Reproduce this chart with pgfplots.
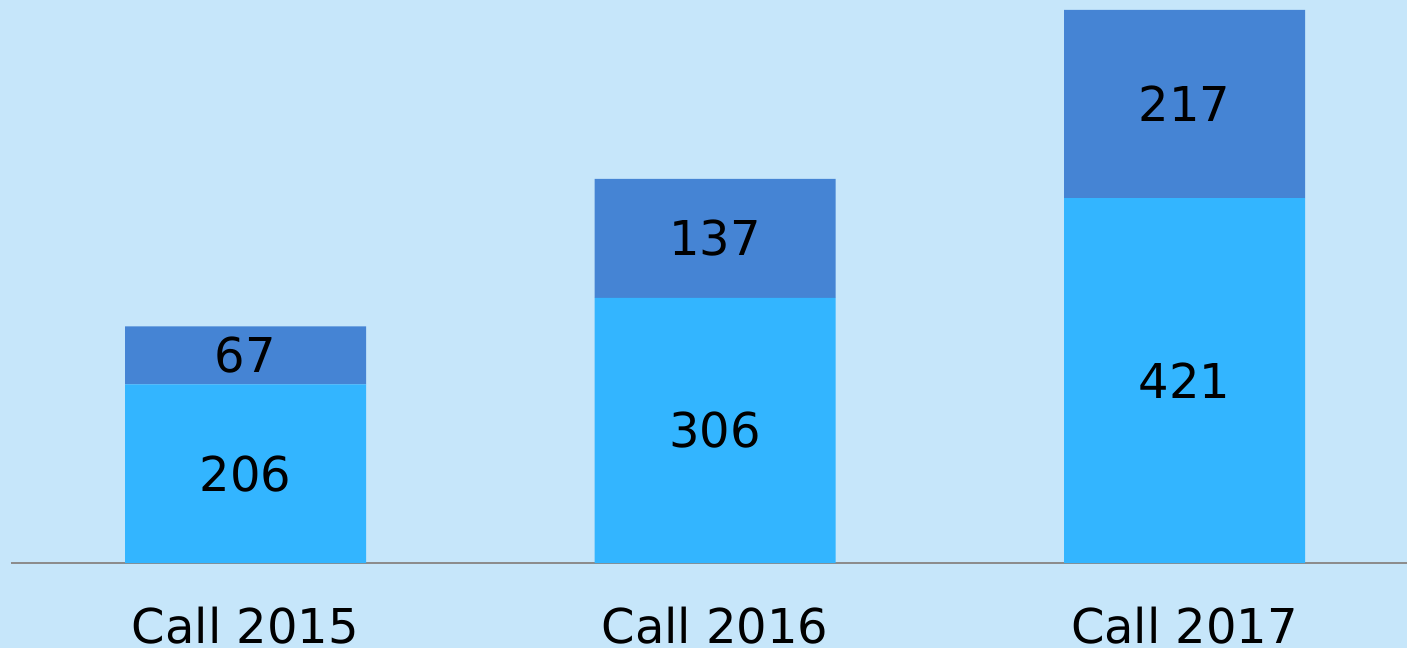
\documentclass[border=0pt]{standalone}
\usepackage{pgfplots}
\pgfplotsset{compat=1.18}
\usepackage{fontspec}
\setmainfont{DejaVu Sans}
\definecolor{bg}{HTML}{C6E6FA}
\definecolor{lowbar}{HTML}{33B5FF}
\definecolor{topbar}{HTML}{4584D4}
\definecolor{axgray}{HTML}{8C8C8C}
\begin{document}
\begin{tikzpicture}
\fill[bg] (0,-42.5pt) rectangle (703.5pt,281.5pt);
\begin{axis}[
 at={(0,0)}, anchor=south west,
 scale only axis, width=703.5pt, height=281.5pt,
 xmin=-0.5229, xmax=2.4739, ymin=0, ymax=649.5,
 ybar stacked, bar width=120.5pt,
 axis line style={draw=none}, ytick=\empty, xtick={0,1,2},
 xticklabels={Call 2015, Call 2016, Call 2017}, major tick length=0pt,
 xticklabel style={anchor=center, yshift=-31.5pt, font=\fontsize{24}{28}\selectfont, text=black},
 point meta=explicit symbolic,
 nodes near coords,
 nodes near coords align=center,
 every node near coord/.append style={anchor=center, font=\fontsize{24}{28}\selectfont, text=black},
 clip=false,
]
\addplot[fill=lowbar, draw=none] coordinates {(0,206) [206] (1,306) [306] (2,421) [421]};
\addplot[fill=topbar, draw=none] coordinates {(0,67) [67] (1,137) [137] (2,217) [217]};
\draw[axgray, line width=1pt] (axis cs:-0.4995,0) -- (axis cs:2.4739,0);
\end{axis}
\pgfresetboundingbox
\useasboundingbox (0,-42.5pt) rectangle (703.5pt,281.5pt);
\end{tikzpicture}
\end{document}
